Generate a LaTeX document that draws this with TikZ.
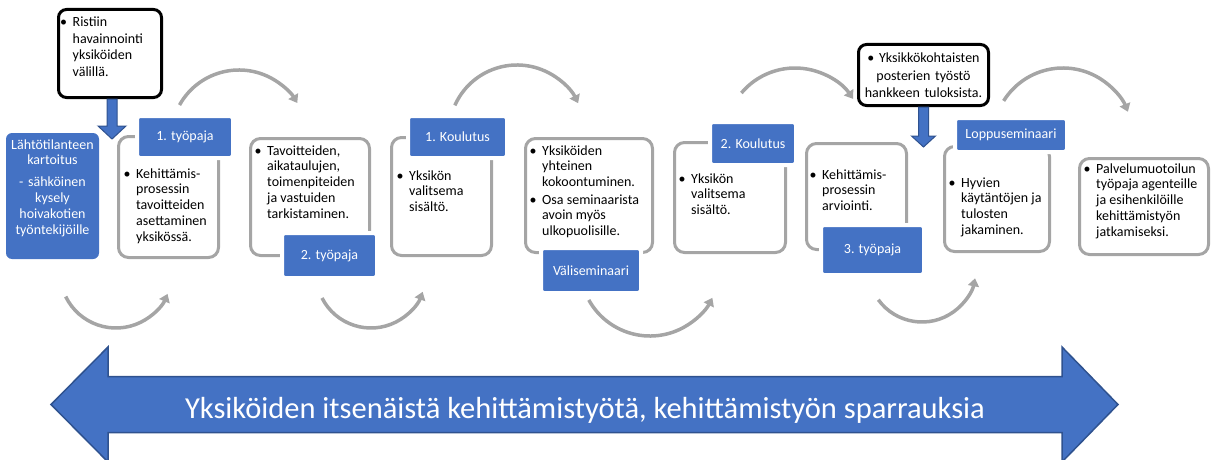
\documentclass[tikz,border=0pt]{standalone}
\usepackage{fontspec}
\setmainfont{Carlito}
\usetikzlibrary{calc,arrows.meta}
\definecolor{accent}{HTML}{4472C4}
\definecolor{accentdark}{HTML}{2F528F}
\definecolor{rim}{HTML}{A5A5A5}
\def\swirl(#1)(#2:#3:#4){\draw[flow] (#1) ++(#2:#4) arc (#2:#3:#4);}
\newcommand\bul[1]{\makebox[12.5pt][l]{\textbullet}\parbox[t]{125pt}{\raggedright#1}}
\tikzset{
	flow/.style={rim, line width=3.5pt, -{Triangle[length=8pt,width=11pt]}},
	panel/.style={draw=rim, line width=3pt, rounded corners=10pt, fill=white, inner sep=0pt},
	tag/.style={fill=accent, draw=white, line width=4pt, rounded corners=3pt, text=white, inner sep=0pt, font=\fontsize{14}{16}\selectfont},
	note/.style={anchor=base west, inner sep=0pt, font=\fontsize{14}{15.8}\selectfont},
	topbox/.style={draw=black, line width=3pt, rounded corners=8pt, fill=white, inner sep=0pt},
	drop/.style={fill=accent, draw=accentdark, line width=1pt},
}

\begin{document}
\begin{tikzpicture}[x=1pt, y=-1pt]
			%%%%% START %%%%%
			\useasboundingbox (0,0) rectangle (1218,460);
			
			\swirl(239,138)(209:329:68)
			\swirl(517,133)(204:334:68)
			\swirl(795,138)(220:326:70)
			\swirl(1063,138)(212:338:70)
			
			\swirl(116,272)(154:23:56)
			\swirl(371,273)(153:20:55)
			\swirl(650,266)(151:27:70)
			\swirl(922,268)(144:11:54)
			
			\node[fill=accent, rounded corners=6pt, minimum width=93pt, minimum height=126pt] (start) at (52.5,196) {};
			\node[anchor=base, text width=93pt, align=center, inner sep=0pt, text=white, font=\fontsize{14}{15.8}\selectfont] (starttext) at (52.5,149) {Lähtötilanteen\\kartoitus\\[6pt]- sähköinen\\kysely\\hoivakotien\\työntekijöille};
			
			\node[panel, minimum width=100pt, minimum height=121pt] (p1) at (168.5,197) {};
			\node[panel, minimum width=119pt, minimum height=117pt] (p2) at (310,197) {};
			\node[panel, minimum width=100pt, minimum height=118pt] (p3) at (441.5,196.5) {};
			\node[panel, minimum width=127pt, minimum height=114pt] (p4) at (589,195.5) {};
			\node[panel, minimum width=111pt, minimum height=110pt] (p5) at (730,197.5) {};
			\node[panel, minimum width=100pt, minimum height=106pt] (p6) at (856.5,196.5) {};
			\node[panel, minimum width=105pt, minimum height=105pt] (p7) at (997,199) {};
			\node[panel, minimum width=129pt, minimum height=96pt] (p8) at (1144,206.5) {};
			
			\node[tag, minimum width=96pt, minimum height=42pt] (l1) at (185,137) {1. työpaja};
			\node[tag, minimum width=95pt, minimum height=45pt] (l2) at (329.5,255.5) {2. työpaja};
			\node[tag, minimum width=99pt, minimum height=42pt] (l3) at (457.5,137) {1. Koulutus};
			\node[tag, minimum width=100pt, minimum height=45pt] (l4) at (591,270.5) {Väliseminaari};
			\node[tag, minimum width=86pt, minimum height=43pt] (l5) at (753,143.5) {2. Koulutus};
			\node[tag, minimum width=103pt, minimum height=50pt] (l6) at (872.5,250) {3. työpaja};
			\node[tag, minimum width=112pt, minimum height=34pt] (l7) at (1011,135) {Loppuseminaari};
			
			\node[note] (t1) at (123.5,178) {\bul{Kehittämis-\\prosessin\\tavoitteiden\\asettaminen\\yksikössä.}};
			\node[note] (t2) at (254.5,155) {\bul{Tavoitteiden,\\aikataulujen,\\toimenpiteiden\\ja vastuiden\\tarkistaminen.}};
			\node[note] (t3) at (396.5,180) {\bul{Yksikön\\valitsema\\sisältö.}};
			\node[note] (t4a) at (529.5,155) {\bul{Yksiköiden\\yhteinen\\kokoontuminen.}};
			\node[note] (t4b) at (529.5,204) {\bul{Osa seminaarista\\avoin myös\\ulkopuolisille.}};
			\node[note] (t5) at (678.5,183) {\bul{Yksikön\\valitsema\\sisältö.}};
			\node[note] (t6) at (809.5,179) {\bul{Kehittämis-\\prosessin\\arviointi.}};
			\node[note] (t7) at (948.5,187) {\bul{Hyvien\\käytäntöjen ja\\tulosten\\jakaminen.}};
			\node[note] (t8) at (1083.5,173) {\bul{Palvelumuotoilun\\työpaja agenteille\\ja esihenkilöille\\kehittämistyön\\jatkamiseksi.}};
			
			\node[topbox, minimum width=103pt, minimum height=88pt] (ristiin) at (110,53.5) {};
			\node[note, font=\fontsize{14}{16.5}\selectfont] (ristiintext) at (60,27) {\bul{Ristiin\\havainnointi\\yksiköiden\\välillä.}};
			\draw[drop] ($(ristiin.south)+(-3,0)$) -- ++(0,27) -- ++(-9,0) -- ++(14,13) -- ++(14,-13) -- ++(-9,0) -- ++(0,-27) -- cycle;
			
			\node[topbox, minimum width=130pt, minimum height=61pt] (poster) at (923.5,75) {};
			\node[anchor=base, text width=133pt, align=center, inner sep=0pt, font=\fontsize{14}{17.5}\selectfont] (postertext) at (923.5,63) {\textbullet\ Yksikkökohtaisten\\posterien työstö\\hankkeen tuloksista.};
			\draw[drop] ($(poster.south)+(-5,0)$) -- ++(0,29) -- ++(-7,0) -- ++(12,11) -- ++(12,-11) -- ++(-7,0) -- ++(0,-29) -- cycle;
			
			\draw[fill=accent, draw=accentdark, line width=1.5pt] (51,404.5) -- (108,347) -- (108,376.5) -- (1062,376.5) -- (1062,347) -- (1118,404.5) -- (1062,462) -- (1062,432.5) -- (108,432.5) -- (108,462) -- cycle;
			\node[anchor=base, inner sep=0pt, text=white, font=\fontsize{30.5}{36}\selectfont] (band) at (585,418) {Yksiköiden itsenäistä kehittämistyötä, kehittämistyön sparrauksia};
			
			%%%%% END %%%%%
\end{tikzpicture}
\end{document}
